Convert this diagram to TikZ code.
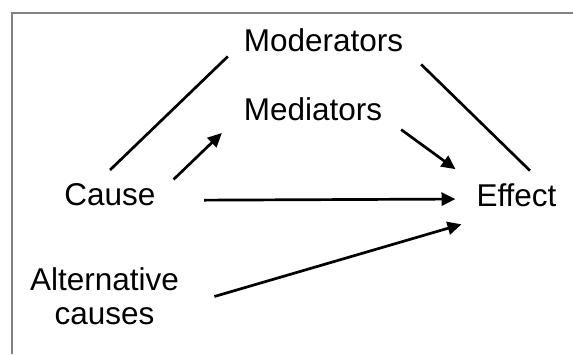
\documentclass[tikz,border=0pt]{standalone}
\usepackage{fontspec}
\setmainfont{Liberation Sans}
\usepackage{tikz}
\usetikzlibrary{positioning, arrows.meta}
\usepackage{xcolor}

\begin{document}
\begin{tikzpicture}[
    x={(0.5pt,0)}, y={(0,-0.5pt)},
    label/.style={inner sep=0pt, outer sep=0pt, font=\fontsize{15.75}{17}\selectfont},
    link/.style={line width=1.35pt},
    arrow/.style={-{Triangle[length=7pt, width=6.5pt]}, line width=1.35pt}
]
    \useasboundingbox (0,0) rectangle (573,354);

    % Frame
    \draw[black!50, line width=1pt] (11.5,354) |- (573,13);

    % Nodes
    \node[label, anchor=base] (moderators) at (323.5,51.7) {Moderators};
    \node[label, anchor=base] (mediators) at (313,120) {Mediators};
    \node[label, anchor=base] (cause) at (110,205) {Cause};
    \node[label, anchor=base] (effect) at (516.5,206) {Effect};
    \node[label, align=center] (altcauses) at (104.5,296.5) {Alternative\\causes};

    % Edges
    \draw[link] ([shift={(0,-13)}]cause.north) -- ([shift={(-16,16)}]moderators.west);
    \draw[link] ([shift={(18,24)}]moderators.east) -- ([shift={(13.5,-12.5)}]effect.north);
    \draw[arrow] ([shift={(18,-3.5)}]cause.north east) -- ([shift={(-22,12.7)}]mediators.south west);
    \draw[arrow] ([shift={(19,9.3)}]mediators.south east) -- ([shift={(-21,-14)}]effect.north west);
    \draw[arrow] ([shift={(48.5,6)}]cause.east) -- ([shift={(-21,4.3)}]effect.west);
    \draw[arrow] ([shift={(35.5,0)}]altcauses.east) -- ([shift={(-15,18)}]effect.south west);
\end{tikzpicture}
\end{document}
